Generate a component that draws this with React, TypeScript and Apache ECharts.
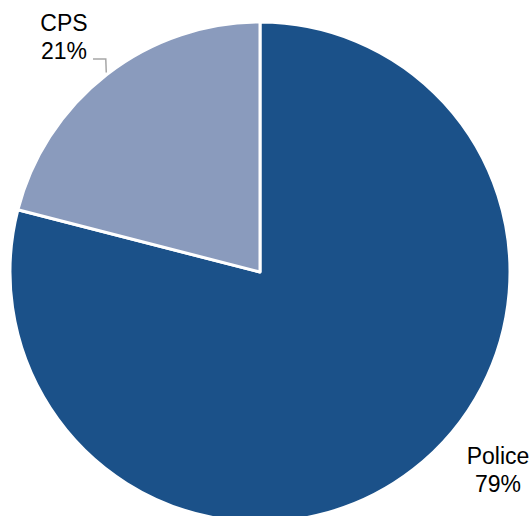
import React, { useEffect, useRef } from "react";
import * as echarts from "echarts";

const categories = ["Police", "CPS"];
const values = [79, 21];
const colors = ["#1B5189", "#8A9BBD"];

const CX = 260;
const CY = 272;
const R = 250;

export default function App() {
  const ref = useRef<HTMLDivElement>(null);
  useEffect(() => {
    document.body.style.margin = "0";
    const chart = echarts.init(ref.current!, null, { renderer: "svg" });
    const total = values.reduce((a, b) => a + b, 0);
    const cpsMid = 90 - (360 * (values[0] + values[1] / 2)) / total;
    const rad = (cpsMid * Math.PI) / 180;
    const ex = CX + R * Math.cos(rad);
    const ey = CY - R * Math.sin(rad);
    chart.setOption({
      animation: false,
      backgroundColor: "#ffffff",
      graphic: [
        {
          type: "polyline",
          z: 100,
          shape: { points: [[93, 59], [ex - 1, 59], [ex - 0.5, ey - 2]] },
          style: { stroke: "#A6A6A6", lineWidth: 1.5, fill: "none" },
        },
      ],
      series: [
        {
          type: "pie",
          center: [CX, CY],
          radius: R,
          startAngle: 90,
          clockwise: true,
          avoidLabelOverlap: false,
          itemStyle: { borderColor: "#ffffff", borderWidth: 3 },
          label: {
            show: true,
            position: "outside",
            formatter: (p: any) => `${p.name}\n${p.value}%`,
            fontFamily: "Liberation Sans, Arial, sans-serif",
            fontSize: 23,
            lineHeight: 28,
            color: "#000000",
            align: "center",
          },
          labelLine: { show: false },
          labelLayout: (params: any) => {
            if (params.dataIndex === 0) {
              return { x: 498, y: 470, align: "center", verticalAlign: "middle" };
            }
            return { x: 64, y: 37, align: "center", verticalAlign: "middle" };
          },
          data: categories.map((name, i) => ({
            name,
            value: values[i],
            itemStyle: { color: colors[i] },
          })),
        },
      ],
    });
    return () => chart.dispose();
  }, []);
  return <div ref={ref} style={{ width: 531, height: 516 }} />;
}
